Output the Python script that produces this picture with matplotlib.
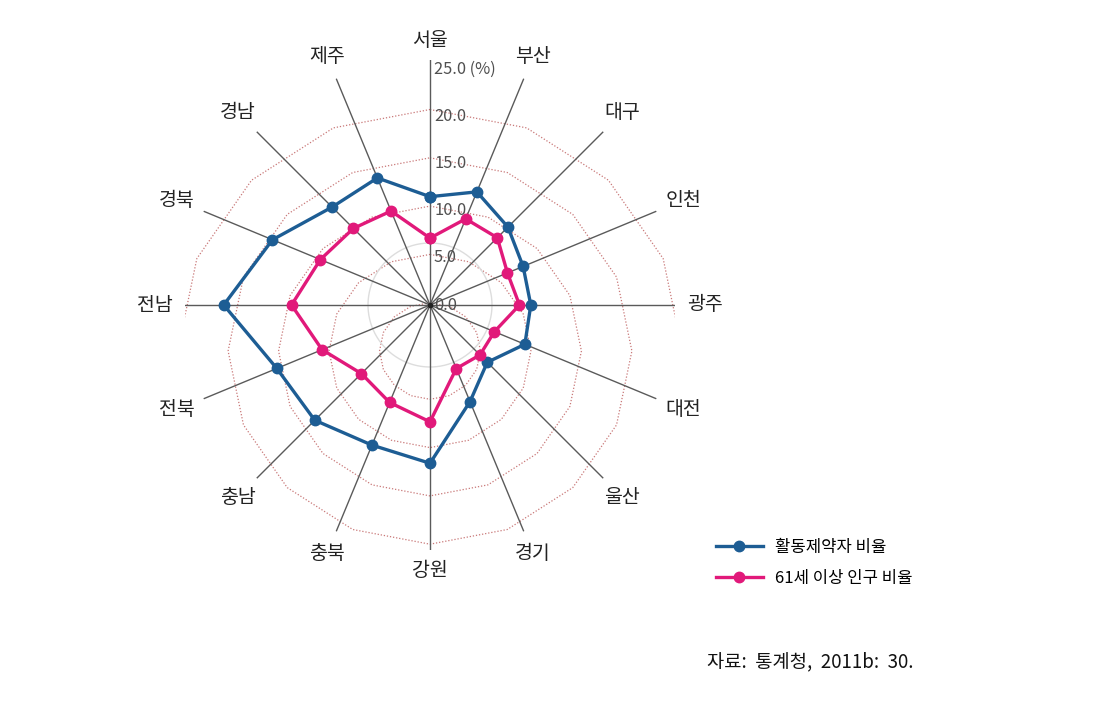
import numpy as np
import matplotlib
matplotlib.use("Agg")
import matplotlib.pyplot as plt
from matplotlib.transforms import offset_copy

plt.rcParams['font.family'] = ['Noto Sans CJK KR', 'DejaVu Sans']

# 지역 (시계방향, 위에서 시작)
regions = ["서울", "부산", "대구", "인천", "광주", "대전", "울산", "경기",
           "강원", "충북", "충남", "전북", "전남", "경북", "경남", "제주"]
# 활동제약자 비율 (%)
activity_limited = [11.5, 13.0, 11.7, 10.7, 10.7, 10.9, 8.6, 11.1,
                    16.8, 16.1, 17.3, 17.6, 21.9, 18.1, 14.7, 14.6]
# 61세 이상 인구 비율 (%)
aged_61 = [7.1, 9.9, 10.1, 8.9, 9.5, 7.4, 7.5, 7.3,
           12.4, 11.2, 10.3, 12.4, 14.7, 12.6, 11.5, 10.8]
tick_values = [0, 5, 10, 15, 20, 25]
tick_labels = ["0.0", "5.0", "10.0", "15.0", "20.0", "25.0 (%)"]
series_names = ["활동제약자 비율", "61세 이상 인구 비율"]
source_text = "자료:  통계청,  2011b:  30."

BLUE = "#1d5d94"
PINK = "#e1197a"

W, H = 1104, 703
fig = plt.figure(figsize=(W / 100, H / 100), dpi=100)

# 중심 (430, 305) px, 반지름 245 px
cx, cy, rad = 430, 305, 245
ax = fig.add_axes([(cx - rad) / W, (H - cy - rad) / H, 2 * rad / W, 2 * rad / H],
                  projection="polar")
px = 9.42          # px per unit
rmax = rad / px
ax.set_theta_zero_location("N")
ax.set_theta_direction(-1)
ax.set_ylim(0, rmax)
ax.set_axis_off()

n = len(regions)
theta = np.arange(n) * 2 * np.pi / n

# 점선 다각형 격자 (원본에서 약간 아래로 치우쳐 있음)
off, hs = 46, 1.045
phi = np.append(theta, theta[0])
for k in range(1, 6):
    R = 48.3 * k
    x = hs * R * np.sin(phi)
    y = R * np.cos(phi) - off
    ax.plot(np.arctan2(x, y), np.hypot(x, y) / px, ls=(0, (1, 1.5)),
            color="#c97878", lw=0.9, zorder=1)

# 회색 원
tt = np.linspace(0, 2 * np.pi, 200)
ax.plot(tt, np.full_like(tt, 62 / px), color="#dddddd", lw=1, zorder=1)

# 방사선
for t in theta:
    ax.plot([t, t], [0, rmax], color="#5a5a5a", lw=1, zorder=2)
ax.plot([0], [0], "o", color="#222222", ms=3, zorder=3)

# 데이터
closed = np.append(theta, theta[0])
for vals, col, name in [(activity_limited, BLUE, series_names[0]),
                        (aged_61, PINK, series_names[1])]:
    v = np.append(vals, vals[0])
    ax.plot(closed, v, color=col, lw=2.4, marker="o", ms=7.5, label=name,
            zorder=4, clip_on=False)

# 눈금 라벨
tr = offset_copy(ax.transData, fig=fig, x=4, y=0, units="dots")
for v, s in zip(tick_values, tick_labels):
    ax.text(0, v, s, transform=tr, ha="left", va="center", fontsize=11.8,
            color="#505050", zorder=5)

# 지역 라벨
for t, s in zip(theta, regions):
    r_lab = (265 + 10 * abs(np.sin(t))) / px
    ax.text(t, r_lab, s, ha="center", va="center", fontsize=14,
            color="#222222", clip_on=False)

fig.legend(loc="upper left", bbox_to_anchor=(716 / W, 1 - 539 / H), frameon=False,
           fontsize=12, handlelength=2.8, handletextpad=0.75, labelspacing=0.85,
           borderpad=0, borderaxespad=0)

fig.text(707 / W, 1 - 662 / H, source_text, ha="left", va="center",
         fontsize=13.5, color="#111111")

fig.savefig("out.png", dpi=100)
